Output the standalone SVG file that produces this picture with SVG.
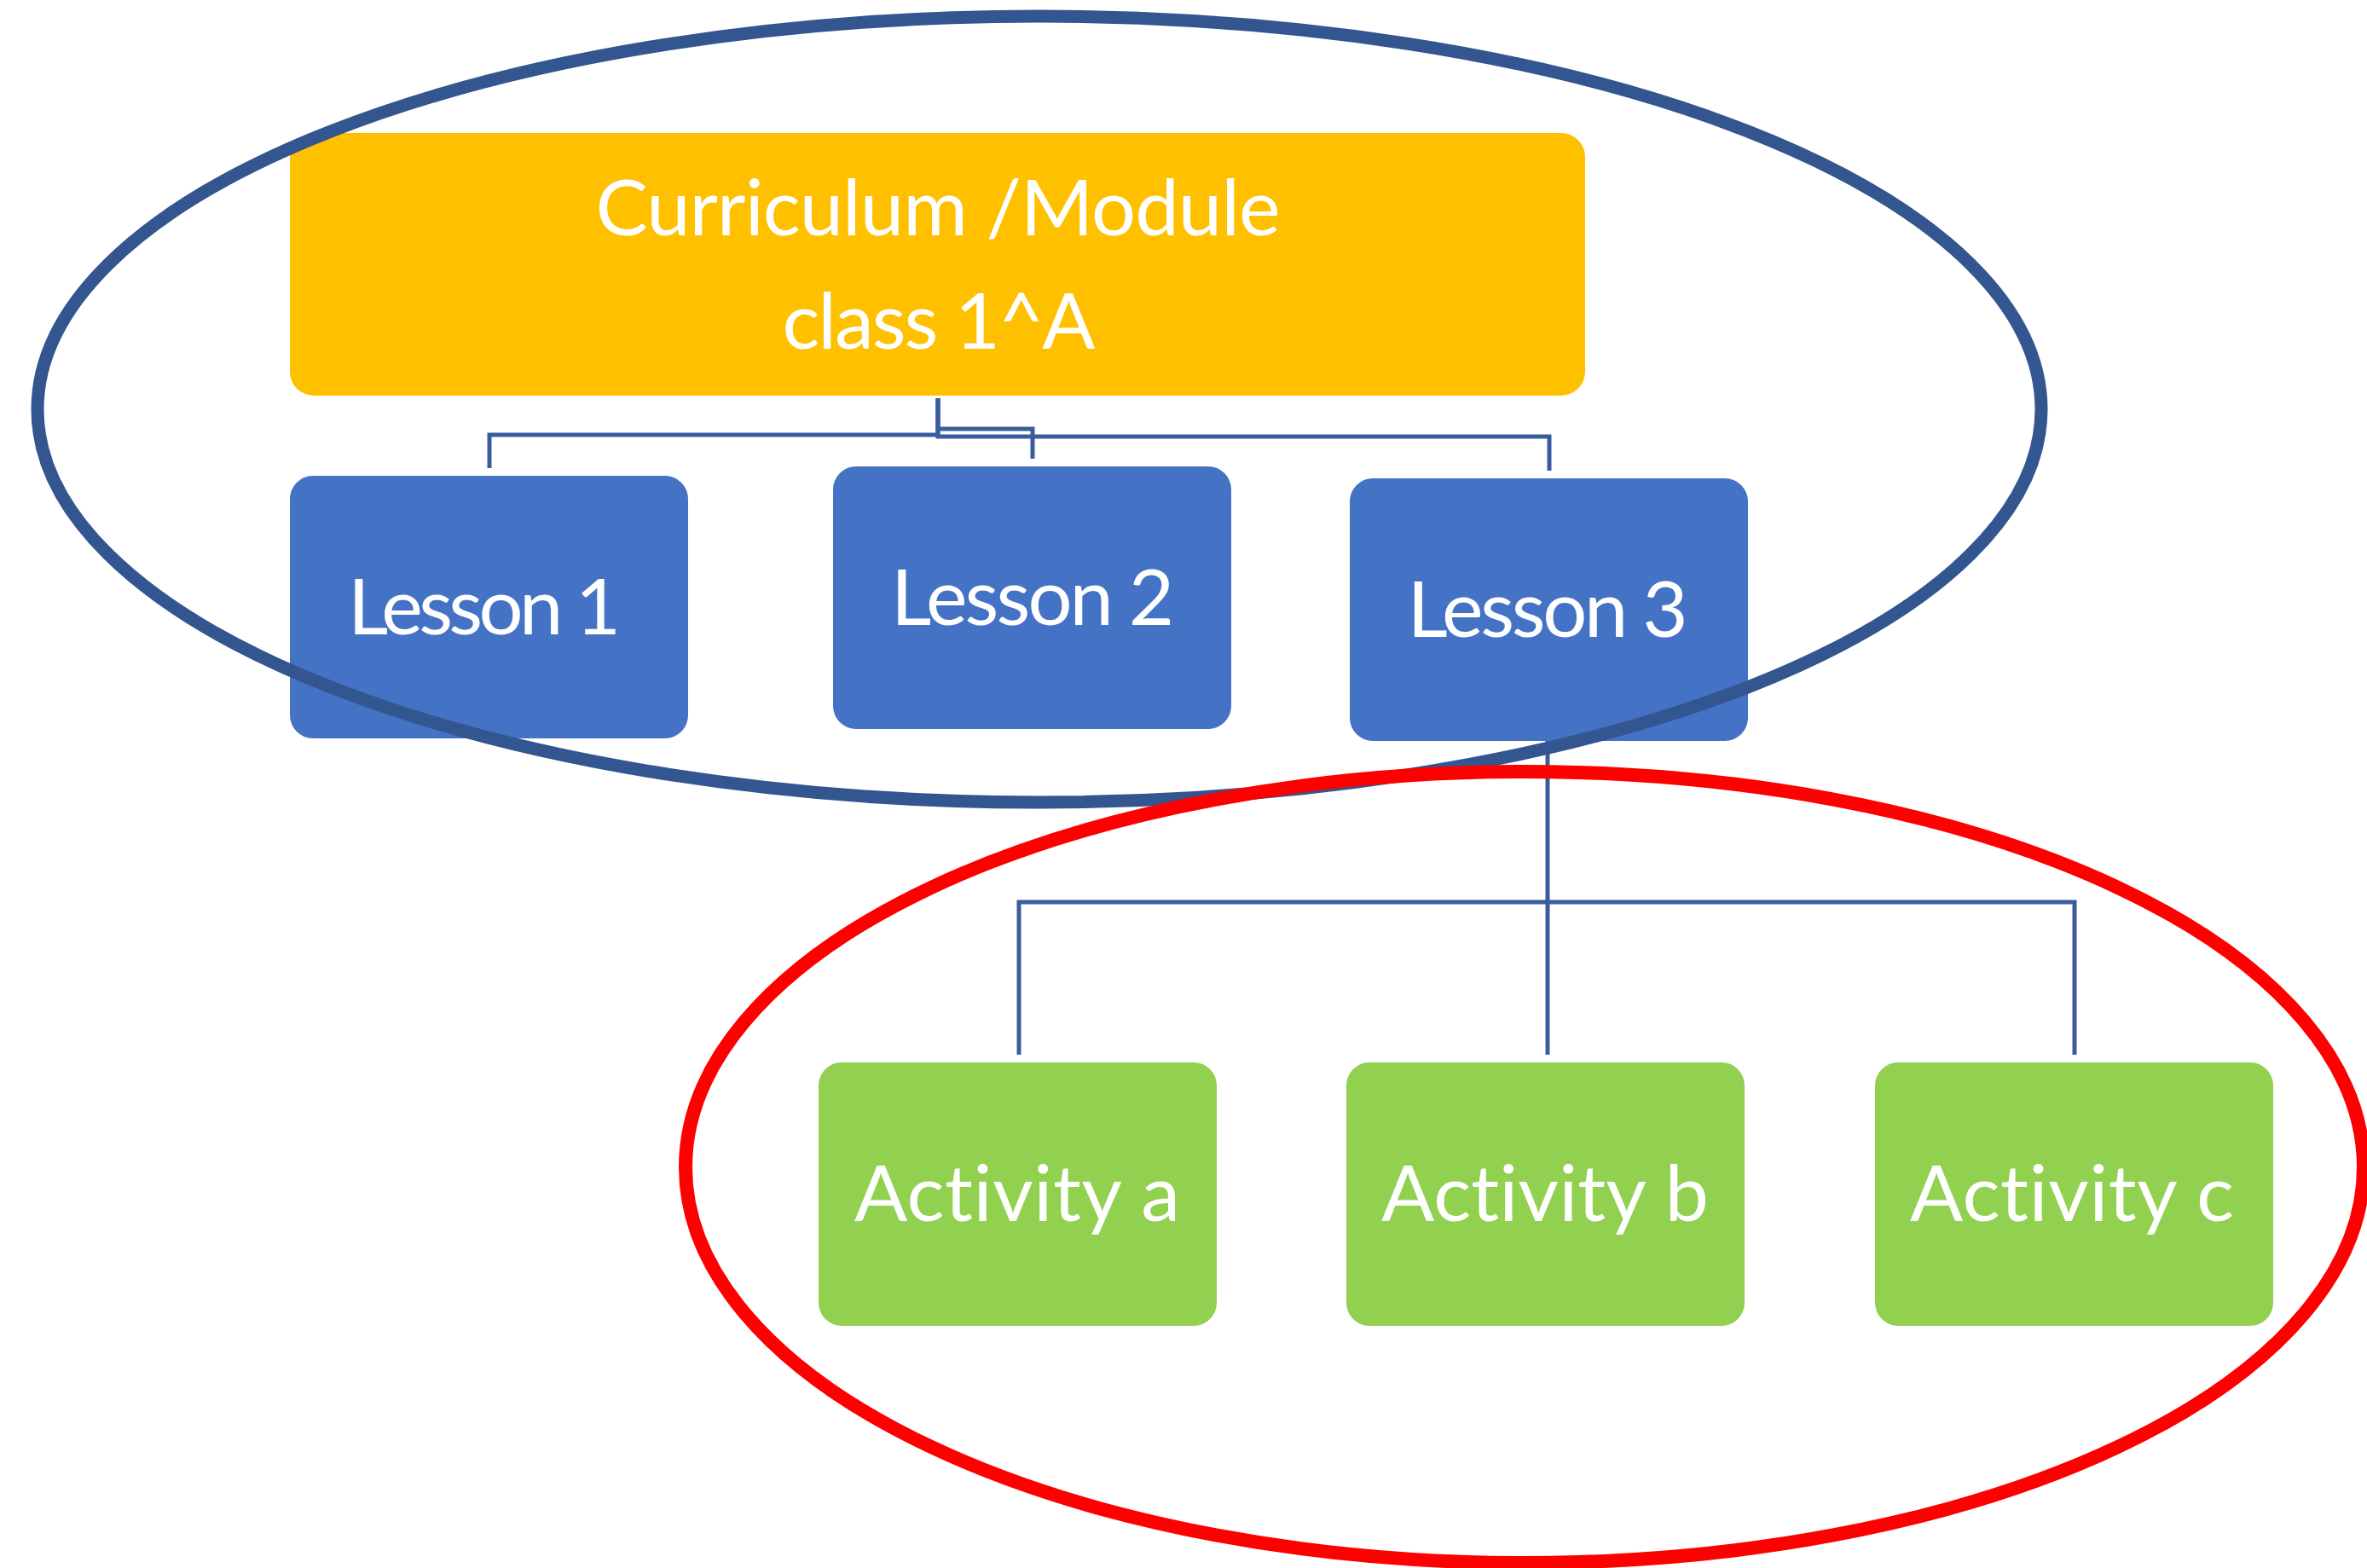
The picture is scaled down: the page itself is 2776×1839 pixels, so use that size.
<svg xmlns="http://www.w3.org/2000/svg" width="2776" height="1839" viewBox="0 0 2776 1839">
<style>
.lbl{font-family:Lato,"Open Sans","Liberation Sans",sans-serif;font-size:92px;fill:#FFFFFF;text-anchor:middle;font-variant-ligatures:none;font-feature-settings:"liga" 0,"clig" 0,"dlig" 0}
.top{fill:#FFC000}
.lesson{fill:#4472C4}
.act{fill:#92D050}
.conn{fill:none;stroke:#3A5C9E;stroke-width:5}
.ring{fill:none}
</style>
<rect x="0" y="0" width="2776" height="1839" fill="#FFFFFF"/>
<g id="node-curriculum">
<rect class="top" x="340" y="156" width="1519" height="308" rx="28"/>
<text class="lbl" x="1100" y="276" textLength="803" lengthAdjust="spacing">Curriculum /Module</text>
<text class="lbl" x="1101" y="409" textLength="367" lengthAdjust="spacing">class 1^A</text>
</g>
<g id="node-lesson1">
<rect class="lesson" x="340" y="558" width="467" height="308" rx="27"/>
<text class="lbl" x="568" y="744" textLength="320" lengthAdjust="spacing">Lesson 1</text>
</g>
<g id="node-lesson2">
<rect class="lesson" x="977" y="547" width="467" height="308" rx="27"/>
<text class="lbl" x="1211" y="733" textLength="332" lengthAdjust="spacing">Lesson 2</text>
</g>
<g id="node-lesson3">
<rect class="lesson" x="1583" y="561" width="467" height="308" rx="27"/>
<text class="lbl" x="1815" y="747" textLength="329" lengthAdjust="spacing">Lesson 3</text>
</g>
<g id="node-activity-a">
<rect class="act" x="960" y="1246" width="467" height="309" rx="27"/>
<text class="lbl" x="1193" y="1432" textLength="382" lengthAdjust="spacing">Activity a</text>
</g>
<g id="node-activity-b">
<rect class="act" x="1579" y="1246" width="467" height="309" rx="27"/>
<text class="lbl" x="1812" y="1432" textLength="384" lengthAdjust="spacing">Activity b</text>
</g>
<g id="node-activity-c">
<rect class="act" x="2199" y="1246" width="467" height="309" rx="27"/>
<text class="lbl" x="2430" y="1432" textLength="380" lengthAdjust="spacing">Activity c</text>
</g>
<g id="connectors">
<path class="conn" d="M1100 467 V510 H574 V549"/>
<path class="conn" d="M1100 467 V503 H1211 V538"/>
<path class="conn" d="M1100 467 V512 H1817 V552"/>
<path class="conn" d="M1815 869 V1058 H1195 V1237"/>
<path class="conn" d="M1815 1058 V1237"/>
<path class="conn" d="M1815 1058 H2433 V1237"/>
</g>
<g id="group-top">
<ellipse class="ring" cx="1219" cy="480" rx="1175" ry="461" stroke="#335590" stroke-width="15"/>
</g>
<g id="group-bottom">
<ellipse class="ring" cx="1788" cy="1369" rx="984" ry="464" stroke="#FF0000" stroke-width="16"/>
</g>
</svg>
